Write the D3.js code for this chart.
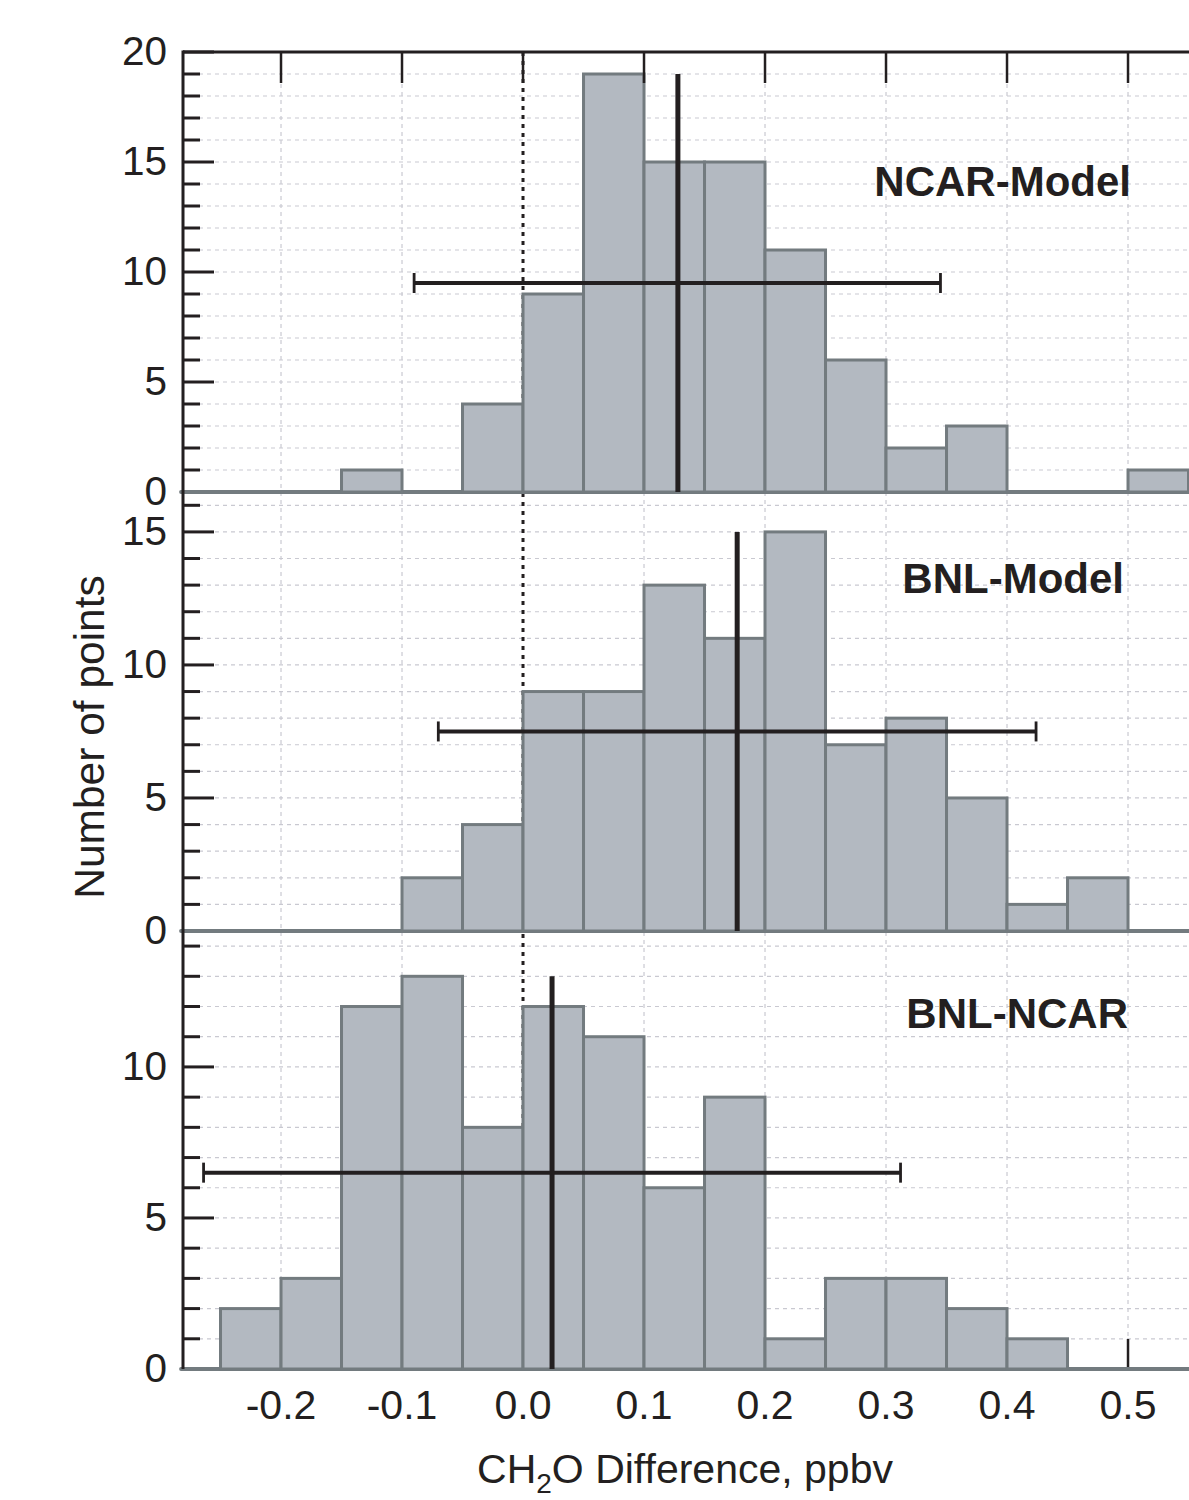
<!DOCTYPE html>
<html>
<head>
<meta charset="utf-8">
<script src="https://cdn.jsdelivr.net/npm/d3@7"></script>
<style>
  html, body { margin: 0; padding: 0; background: #fff; }
  svg { display: block; }
  text { font-family: "Liberation Sans", Arial, Helvetica, sans-serif; fill: #231f20; }
</style>
</head>
<body>
<svg id="chart" width="1189" height="1500"></svg>
<script>
// ---- Data ----
const binStarts = [-0.30, -0.25, -0.20, -0.15, -0.10, -0.05, 0.00, 0.05, 0.10, 0.15, 0.20, 0.25, 0.30, 0.35, 0.40, 0.45, 0.50];
const binWidth = 0.05;
const ncarModelCounts = [0, 0, 0, 1, 0, 4, 9, 19, 15, 15, 11, 6, 2, 3, 0, 0, 1];
const bnlModelCounts  = [0, 0, 0, 0, 2, 4, 9, 9, 13, 11, 15, 7, 8, 5, 1, 2, 0];
const bnlNcarCounts   = [0, 2, 3, 12, 13, 8, 12, 11, 6, 9, 1, 3, 3, 2, 1, 0, 0];
const panelNames = ["NCAR-Model", "BNL-Model", "BNL-NCAR"];
const panelMeans = [0.128, 0.177, 0.024];
const panelMeanTop = [19, 15, 13];
const panelErrLow = [-0.090, -0.070, -0.264];
const panelErrHigh = [0.345, 0.424, 0.312];
const panelErrLevel = [9.5, 7.5, 6.5];
const panelYMax = [20, 16.5, 14.5];
const panelYLabels = [[0, 5, 10, 15, 20], [0, 5, 10, 15], [0, 5, 10]];
const xTickValues = [-0.2, -0.1, 0.0, 0.1, 0.2, 0.3, 0.4, 0.5];
const xTickLabels = ["-0.2", "-0.1", "0.0", "0.1", "0.2", "0.3", "0.4", "0.5"];
const xDomain = [-0.281, 0.5504];

// ---- Layout ----
const svg = d3.select("#chart");
const left = 183, right = 1189;
const panelTops = [52, 492, 931];
const panelBottoms = [492, 931, 1369];
const textColor = "#231f20";
const fillColor = "#b3b9c1";
const strokeColor = "#737b7f";
const gridColor = "#c9c9d1";

const x = d3.scaleLinear().domain(xDomain).range([left, right]);
const countsAll = [ncarModelCounts, bnlModelCounts, bnlNcarCounts];
const ys = panelYMax.map((m, i) => d3.scaleLinear().domain([0, m]).range([panelBottoms[i], panelTops[i]]));

const gGrid = svg.append("g");
gGrid.selectAll("line.vg").data(xTickValues.filter(v => v !== 0)).join("line")
  .attr("x1", d => x(d)).attr("x2", d => x(d))
  .attr("y1", panelTops[0]).attr("y2", panelBottoms[2])
  .attr("stroke", gridColor).attr("stroke-width", 1.2).attr("stroke-dasharray", "4,4");
ys.forEach((y, i) => {
  const vals = d3.range(1, Math.floor(panelYMax[i]) + 1).filter(v => y(v) > panelTops[i] + 2);
  gGrid.selectAll(null).data(vals).join("line")
    .attr("x1", left).attr("x2", right)
    .attr("y1", d => y(d)).attr("y2", d => y(d))
    .attr("stroke", gridColor).attr("stroke-width", 1.2).attr("stroke-dasharray", "4,4");
});
// zero dotted line
svg.append("line")
  .attr("x1", x(0)).attr("x2", x(0))
  .attr("y1", panelTops[0]).attr("y2", panelBottoms[2])
  .attr("stroke", textColor).attr("stroke-width", 3).attr("stroke-dasharray", "4,5");

// bottom axis ticks (pointing up)
svg.selectAll("line.bt").data(xTickValues).join("line")
  .attr("x1", d => x(d)).attr("x2", d => x(d))
  .attr("y1", panelBottoms[2]).attr("y2", panelBottoms[2] - 30)
  .attr("stroke", textColor).attr("stroke-width", 2.5);
svg.append("line")
  .attr("x1", left).attr("x2", right).attr("y1", panelBottoms[2]).attr("y2", panelBottoms[2])
  .attr("stroke", textColor).attr("stroke-width", 2);

// histograms
countsAll.forEach((counts, i) => {
  const y = ys[i];
  const g = svg.append("g");
  g.append("line")
    .attr("x1", left - 2).attr("x2", right)
    .attr("y1", y(0)).attr("y2", y(0))
    .attr("stroke", strokeColor).attr("stroke-width", 3.8).attr("stroke-linecap", "round");
  const bins = binStarts.map((s, k) => ({ s: s, c: counts[k] })).filter(d => d.c > 0);
  g.selectAll("rect").data(bins).join("rect")
    .attr("x", d => x(d.s)).attr("width", d => x(d.s + binWidth) - x(d.s))
    .attr("y", d => y(d.c)).attr("height", d => y(0) - y(d.c))
    .attr("fill", fillColor).attr("stroke", strokeColor).attr("stroke-width", 3);
});

// mean lines and error bars
countsAll.forEach((counts, i) => {
  const y = ys[i];
  const g = svg.append("g");
  g.append("line")
    .attr("x1", x(panelMeans[i])).attr("x2", x(panelMeans[i]))
    .attr("y1", y(0)).attr("y2", y(panelMeanTop[i]))
    .attr("stroke", textColor).attr("stroke-width", 5);
  g.append("line")
    .attr("x1", x(panelErrLow[i])).attr("x2", x(panelErrHigh[i]))
    .attr("y1", y(panelErrLevel[i])).attr("y2", y(panelErrLevel[i]))
    .attr("stroke", textColor).attr("stroke-width", 4);
  [panelErrLow[i], panelErrHigh[i]].forEach(v => {
    g.append("line")
      .attr("x1", x(v)).attr("x2", x(v))
      .attr("y1", y(panelErrLevel[i]) - 10).attr("y2", y(panelErrLevel[i]) + 10)
      .attr("stroke", textColor).attr("stroke-width", 2.8);
  });
});

// left axis
svg.append("line")
  .attr("x1", left).attr("x2", left).attr("y1", panelTops[0] - 1.5).attr("y2", panelBottoms[2])
  .attr("stroke", textColor).attr("stroke-width", 3);
ys.forEach((y, i) => {
  const vals = d3.range(0, Math.floor(panelYMax[i]) + 1).filter(v => v > 0);
  svg.selectAll(null).data(vals).join("line")
    .attr("x1", left).attr("x2", d => d % 5 === 0 ? left + 31 : left + 17)
    .attr("y1", d => y(d)).attr("y2", d => y(d))
    .attr("stroke", textColor).attr("stroke-width", 3);
  svg.selectAll(null).data(panelYLabels[i]).join("text")
    .attr("x", 167).attr("y", d => y(d))
    .attr("dy", "0.32em")
    .attr("text-anchor", "end")
    .attr("font-size", 40.5)
    .text(d => d);
});

// top axis
svg.append("line")
  .attr("x1", left).attr("x2", right).attr("y1", panelTops[0]).attr("y2", panelTops[0])
  .attr("stroke", textColor).attr("stroke-width", 3);
svg.selectAll("line.tt").data(xTickValues).join("line")
  .attr("x1", d => x(d)).attr("x2", d => x(d))
  .attr("y1", panelTops[0]).attr("y2", panelTops[0] + 31)
  .attr("stroke", textColor).attr("stroke-width", 2.5);

// x tick labels
svg.selectAll("text.xl").data(xTickValues).join("text")
  .attr("x", (d) => x(d)).attr("y", 1419)
  .attr("text-anchor", "middle").attr("font-size", 41)
  .text((d, k) => xTickLabels[k]);

// panel names
const nameX = [1131, 1124, 1128];
const nameY = [196, 593, 1028];
panelNames.forEach((n, i) => {
  svg.append("text")
    .attr("x", nameX[i]).attr("y", nameY[i])
    .attr("text-anchor", "end").attr("font-size", 42).attr("font-weight", "bold")
    .text(n);
});

// axis titles
svg.append("text")
  .attr("transform", "translate(104,737) rotate(-90)")
  .attr("text-anchor", "middle").attr("font-size", 42.5)
  .text("Number of points");

const xt = svg.append("text")
  .attr("x", 685).attr("y", 1483)
  .attr("text-anchor", "middle").attr("font-size", 41);
xt.append("tspan").text("CH");
xt.append("tspan").attr("font-size", 28).attr("dy", 10).text("2");
xt.append("tspan").attr("dy", -10).text("O Difference, ppbv");
</script>
</body>
</html>
